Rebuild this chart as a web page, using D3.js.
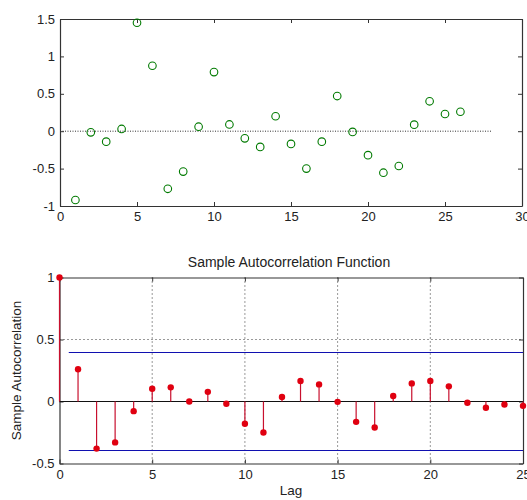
<!DOCTYPE html>
<html>
<head>
<meta charset="utf-8">
<script src="https://cdn.jsdelivr.net/npm/d3@7"></script>
<style>
  body { margin: 0; background: #fff; }
  svg text { font-family: "Liberation Sans", Arial, sans-serif; fill: #222; }
  .axis path, .axis line { stroke: #333; }
</style>
</head>
<body>
<div id="display"></div>
<script>
// top panel: residual series
const seriesX = d3.range(1, 27)
const seriesY = [-0.92, -0.015, -0.14, 0.03, 1.45, 0.875, -0.77, -0.54, 0.06, 0.79,
    0.09, -0.095, -0.21, 0.2, -0.17, -0.5, -0.14, 0.47, -0.01, -0.32,
    -0.555, -0.465, 0.087, 0.4, 0.23, 0.26]
const topXTicks = [0, 5, 10, 15, 20, 25, 30]
const topYTicks = [-1, -0.5, 0, 0.5, 1, 1.5]

// bottom panel: sample ACF
const lags = d3.range(0, 26)
const acf = [1, 0.26, -0.38, -0.33, -0.078, 0.103, 0.114, 0.0, 0.078, -0.018,
    -0.18, -0.25, 0.036, 0.165, 0.138, -0.003, -0.164, -0.21, 0.044, 0.146,
    0.165, 0.122, -0.01, -0.05, -0.024, -0.035]
const bound = 0.395
const botXTicks = [0, 5, 10, 15, 20, 25]
const botYTicks = [-0.5, 0, 0.5, 1]

const width = 527, height = 500

const svg = d3.select('#display').append('svg')
    .attr('width', width)
    .attr('height', height)

function fmt(d) { return String(d) }

function boxAxes(g, x, y, xTicks, yTicks) {
    const [x0, x1] = x.range()
    const [y0, y1] = y.range()
    g.append('g').attr('class', 'axis')
        .attr('transform', 'translate(0,' + y0 + ')')
        .call(d3.axisBottom(x).tickValues(xTicks).tickFormat(fmt).tickSizeInner(-4).tickSizeOuter(0).tickPadding(6))
    g.append('g').attr('class', 'axis')
        .attr('transform', 'translate(0,' + y1 + ')')
        .call(d3.axisTop(x).tickValues(xTicks).tickFormat('').tickSizeInner(-4).tickSizeOuter(0))
    g.append('g').attr('class', 'axis')
        .attr('transform', 'translate(' + x0 + ',0)')
        .call(d3.axisLeft(y).tickValues(yTicks).tickFormat(fmt).tickSizeInner(-4).tickSizeOuter(0).tickPadding(5))
    g.append('g').attr('class', 'axis')
        .attr('transform', 'translate(' + x1 + ',0)')
        .call(d3.axisRight(y).tickValues(yTicks).tickFormat('').tickSizeInner(-4).tickSizeOuter(0))
    g.selectAll('.axis text').style('font-size', '13px').style('fill', '#222')
    g.selectAll('.axis path').attr('stroke-width', 1.2)
}

// ---------- top panel ----------
const xTop = d3.scaleLinear().domain([0, 30]).range([60, 522])
const yTop = d3.scaleLinear().domain([-1, 1.5]).range([206, 19])
const topPanel = svg.append('g')

topPanel.append('line')
    .attr('x1', xTop(0)).attr('x2', xTop(28))
    .attr('y1', yTop(0)).attr('y2', yTop(0))
    .attr('stroke', '#333')
    .attr('stroke-width', 1)
    .attr('stroke-dasharray', '1,1.5')

boxAxes(topPanel, xTop, yTop, topXTicks, topYTicks)

topPanel.selectAll('.pt').data(seriesY)
    .enter()
    .append('circle')
        .attr('cx', (d, i) => xTop(seriesX[i]))
        .attr('cy', d => yTop(d))
        .attr('r', 3.8)
        .attr('fill', 'none')
        .attr('stroke', '#007a00')
        .attr('stroke-width', 1.1)

// ---------- bottom panel ----------
const xBot = d3.scaleLinear().domain([0, 25]).range([59.5, 523])
const yBot = d3.scaleLinear().domain([-0.5, 1]).range([463.5, 277.5])
const bot = svg.append('g')

// dotted grid
bot.selectAll('.gx').data(botXTicks.slice(1, -1))
    .enter().append('line')
        .attr('x1', d => xBot(d)).attr('x2', d => xBot(d))
        .attr('y1', yBot(1)).attr('y2', yBot(-0.5))
        .attr('stroke', '#333').attr('stroke-dasharray', '1,3')
bot.selectAll('.gy').data(botYTicks.slice(1, -1))
    .enter().append('line')
        .attr('x1', xBot(0)).attr('x2', xBot(25))
        .attr('y1', d => yBot(d)).attr('y2', d => yBot(d))
        .attr('stroke', '#333').attr('stroke-dasharray', '1,3')

boxAxes(bot, xBot, yBot, botXTicks, botYTicks)

// confidence bounds
bot.selectAll('.bnd').data([bound, -bound])
    .enter().append('line')
        .attr('x1', xBot(0.5)).attr('x2', xBot(25))
        .attr('y1', d => yBot(d)).attr('y2', d => yBot(d))
        .attr('stroke', '#1010b0')
        .attr('stroke-width', 1.2)

// zero line
bot.append('line')
    .attr('x1', xBot(0)).attr('x2', xBot(25))
    .attr('y1', yBot(0)).attr('y2', yBot(0))
    .attr('stroke', '#111')
    .attr('stroke-width', 1.2)

// stems
bot.selectAll('.stem').data(acf)
    .enter().append('line')
        .attr('x1', (d, i) => xBot(lags[i])).attr('x2', (d, i) => xBot(lags[i]))
        .attr('y1', yBot(0)).attr('y2', d => yBot(d))
        .attr('stroke', '#c8102e')
        .attr('stroke-width', 1.2)
bot.selectAll('.dot').data(acf)
    .enter().append('circle')
        .attr('cx', (d, i) => xBot(lags[i]))
        .attr('cy', d => yBot(d))
        .attr('r', 3.2)
        .attr('fill', '#e00010')

bot.append('text')
    .attr('x', 289).attr('y', 267)
    .attr('text-anchor', 'middle')
    .style('font-size', '14px')
    .text('Sample Autocorrelation Function')

bot.append('text')
    .attr('x', 291).attr('y', 495)
    .attr('text-anchor', 'middle')
    .style('font-size', '13.5px')
    .text('Lag')

bot.append('text')
    .attr('transform', 'translate(21,' + yBot(0.25) + ') rotate(-90)')
    .attr('text-anchor', 'middle')
    .style('font-size', '13.5px')
    .text('Sample Autocorrelation')
</script>
</body>
</html>
